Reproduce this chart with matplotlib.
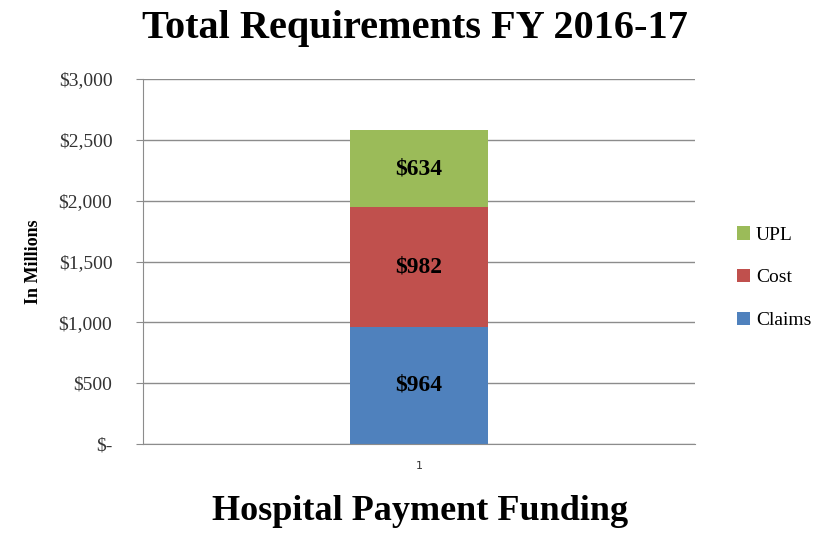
import matplotlib.pyplot as plt
from matplotlib.ticker import FuncFormatter

# dados do gráfico (em milhões)
categories = ['1']
series = ['Claims', 'Cost', 'UPL']
values = {'Claims': [964], 'Cost': [982], 'UPL': [634]}
colors = {'Claims': '#4F81BD', 'Cost': '#C0504D', 'UPL': '#9BBB59'}
yticks = [0, 500, 1000, 1500, 2000, 2500, 3000]

serif = ['Liberation Serif', 'DejaVu Serif']

fig = plt.figure(figsize=(8.39, 5.34), dpi=100)
ax = fig.add_axes([0.1704, 0.1685, 0.658, 0.6835])

x = [1]
bottom = [0]
for s in series:
    v = values[s]
    ax.bar(x, v, width=0.25, bottom=bottom, color=colors[s], label=s, zorder=2)
    for xi, b, vi in zip(x, bottom, v):
        ax.text(xi, b + vi / 2, '$%d' % vi, ha='center', va='center',
                fontsize=17, fontweight='bold', family=serif, color='black', zorder=3)
    bottom = [b + vi for b, vi in zip(bottom, v)]

ax.set_xlim(0.5, 1.5)
ax.set_ylim(0, 3000)
ax.set_xticks(x)
ax.set_xticklabels(categories, fontsize=8, color='#333333')
ax.set_yticks(yticks)
ax.yaxis.set_major_formatter(FuncFormatter(lambda v, p: '$-' if v == 0 else '${:,.0f}'.format(v)))
for lbl in ax.get_yticklabels():
    lbl.set_family(serif)
    lbl.set_fontsize(14)
    lbl.set_color('#333333')

ax.grid(axis='y', color='#8c8c8c', linewidth=1, zorder=0)
for side in ['top', 'right']:
    ax.spines[side].set_visible(False)
ax.spines['left'].set_color('#8c8c8c')
ax.spines['bottom'].set_color('#8c8c8c')
ax.tick_params(axis='y', length=5, color='#8c8c8c', pad=17)
ax.tick_params(axis='x', length=0, pad=12)

ax.set_ylabel('In Millions', family=serif, fontsize=13, fontweight='bold', labelpad=12)
fig.text(0.495, 0.947, 'Total Requirements FY 2016-17', ha='center', va='center',
         family=serif, fontsize=29, fontweight='bold')
fig.text(0.501, 0.043, 'Hospital Payment Funding', ha='center', va='center',
         family=serif, fontsize=26, fontweight='bold')

h, l = ax.get_legend_handles_labels()
leg = fig.legend(h[::-1], l[::-1], loc='center left', bbox_to_anchor=(0.857, 0.48),
                 frameon=False, handlelength=0.7, handleheight=0.7, handletextpad=0.3,
                 labelspacing=1.3, prop={'family': serif, 'size': 14})

fig.savefig('out.png', dpi=100)
